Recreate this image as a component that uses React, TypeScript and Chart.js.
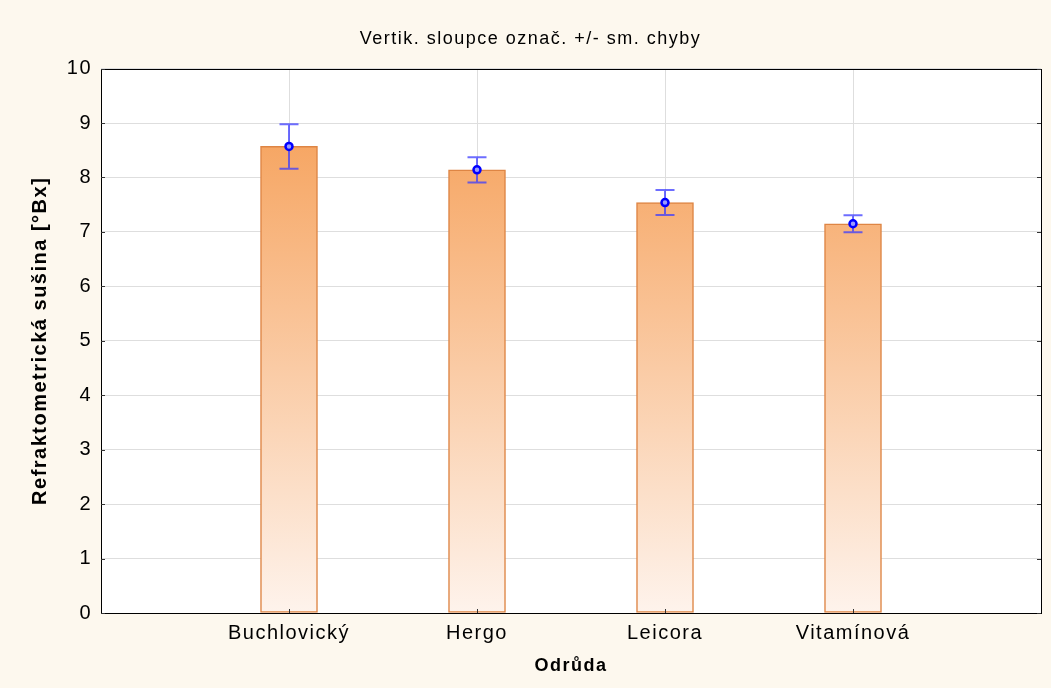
import React, { useEffect, useRef } from "react";
import { Chart, registerables } from "chart.js";

Chart.register(...registerables);

const categories = ["Buchlovický", "Hergo", "Leicora", "Vitamínová"];
const means = [8.57, 8.14, 7.54, 7.15];
const stdErrors = [0.41, 0.23, 0.23, 0.155];
const yMin = 0;
const yMax = 10;
const yStep = 1;

const titleText = "Vertik. sloupce označ. +/- sm. chyby";
const xTitle = "Odrůda";
const yTitle = "Refraktometrická sušina [°Bx]";

const FONT = "'Liberation Sans', Arial, sans-serif";
const BG = "#fdf8ee";

const frame = {
  id: "frame",
  beforeDraw(chart: any) {
    const { ctx, chartArea: a } = chart;
    ctx.letterSpacing = "1.5px";
    ctx.save();
    ctx.fillStyle = BG;
    ctx.fillRect(0, 0, chart.width, chart.height);
    ctx.fillStyle = "#ffffff";
    ctx.fillRect(a.left, a.top, a.right - a.left, a.bottom - a.top);
    ctx.restore();
  },
  afterDraw(chart: any) {
    const { ctx, chartArea: a, scales } = chart;
    ctx.save();
    ctx.strokeStyle = "#000";
    ctx.lineWidth = 1;
    ctx.strokeRect(Math.round(a.left) + 0.5, Math.round(a.top) + 0.5, Math.round(a.right - a.left), Math.round(a.bottom - a.top));
    ctx.strokeStyle = "#333";
    const ys = scales.y;
    for (let v = yMin; v <= yMax; v += yStep) {
      const py = Math.round(ys.getPixelForValue(v)) + 0.5;
      ctx.beginPath();
      ctx.moveTo(a.left, py);
      ctx.lineTo(a.left + 4, py);
      ctx.moveTo(a.right, py);
      ctx.lineTo(a.right - 4, py);
      ctx.stroke();
    }
    const xs = scales.x;
    for (let i = 0; i < categories.length; i++) {
      const px = Math.round(xs.getPixelForValue(i + 1)) + 0.5;
      ctx.beginPath();
      ctx.moveTo(px, a.bottom);
      ctx.lineTo(px, a.bottom - 4);
      ctx.stroke();
    }
    ctx.restore();
  },
};

const errorBars = {
  id: "errorBars",
  afterDatasetDraw(chart: any, args: any) {
    if (args.index !== 0) return;
    const { ctx, scales } = chart;
    ctx.save();
    ctx.strokeStyle = "rgba(60,60,255,0.75)";
    ctx.lineWidth = 2;
    for (let i = 0; i < means.length; i++) {
      const x = scales.x.getPixelForValue(i + 1);
      const yt = scales.y.getPixelForValue(means[i] + stdErrors[i]);
      const yb = scales.y.getPixelForValue(means[i] - stdErrors[i]);
      ctx.beginPath();
      ctx.moveTo(x, yt);
      ctx.lineTo(x, yb);
      ctx.moveTo(x - 9.5, yt);
      ctx.lineTo(x + 9.5, yt);
      ctx.moveTo(x - 9.5, yb);
      ctx.lineTo(x + 9.5, yb);
      ctx.stroke();
    }
    ctx.restore();
  },
};

export default function App() {
  const ref = useRef<HTMLCanvasElement | null>(null);
  useEffect(() => {
    if (!ref.current) return;
    const labels = ["", ...categories, ""];
    const chart = new Chart(ref.current, {
      type: "bar",
      data: {
        labels,
        datasets: [
          {
            type: "bar",
            data: [null, ...means, null],
            order: 2,
            barThickness: 57,
            borderColor: "#de8544",
            borderWidth: 1.5,
            borderSkipped: false,
            backgroundColor: (c: any) => {
              const { chart } = c;
              const a = chart.chartArea;
              if (!a) return "#f7a765";
              const g = chart.ctx.createLinearGradient(0, a.top, 0, a.bottom);
              g.addColorStop(0, "#f59a4e");
              g.addColorStop(1, "#fef3ec");
              return g;
            },
          } as any,
          {
            type: "line",
            data: [null, ...means, null],
            order: 1,
            showLine: false,
            pointRadius: 3.5,
            pointBorderWidth: 2.5,
            pointBorderColor: "#0000ff",
            pointBackgroundColor: "#9a9aff",
          } as any,
        ],
      },
      options: {
        animation: false,
        responsive: false,
        layout: { padding: { left: 20, right: 10, top: 0, bottom: 0 } },
        plugins: {
          legend: { display: false },
          tooltip: { enabled: false },
          title: {
            display: true,
            text: titleText,
            color: "#000",
            font: { family: FONT, size: 18, weight: "normal" },
            padding: { top: 28, bottom: 19 },
          },
        },
        scales: {
          x: {
            type: "category",
            offset: false,
            border: { display: false },
            grid: {
              offset: false,
              drawTicks: false,
              color: (c: any) => (c.index === 0 || c.index === labels.length - 1 ? "rgba(0,0,0,0)" : "#dedede"),
            },
            ticks: { color: "#000", font: { family: FONT, size: 20 }, padding: 8, maxRotation: 0, autoSkip: false },
            title: {
              display: true,
              text: xTitle,
              color: "#000",
              font: { family: FONT, size: 18, weight: "bold" },
              padding: { top: 0, bottom: 11 },
            },
            afterFit: (s: any) => {
              s.height = 75;
            },
          },
          y: {
            min: yMin,
            max: yMax,
            border: { display: false },
            grid: { drawTicks: false, color: "#dedede" },
            ticks: { stepSize: yStep, color: "#000", font: { family: FONT, size: 20 }, padding: 9 },
            title: {
              display: true,
              text: yTitle,
              color: "#000",
              font: { family: FONT, size: 20, weight: "bold" },
              padding: { top: 8, bottom: 0 },
            },
            afterFit: (s: any) => {
              s.width = 81;
            },
          },
        },
      } as any,
      plugins: [frame, errorBars],
    });
    return () => chart.destroy();
  }, []);
  return (
    <div style={{ position: "fixed", left: 0, top: 0, width: 1051, height: 688, background: BG }}>
      <canvas ref={ref} width={1051} height={688} style={{ display: "block", width: 1051, height: 688 }} />
    </div>
  );
}
